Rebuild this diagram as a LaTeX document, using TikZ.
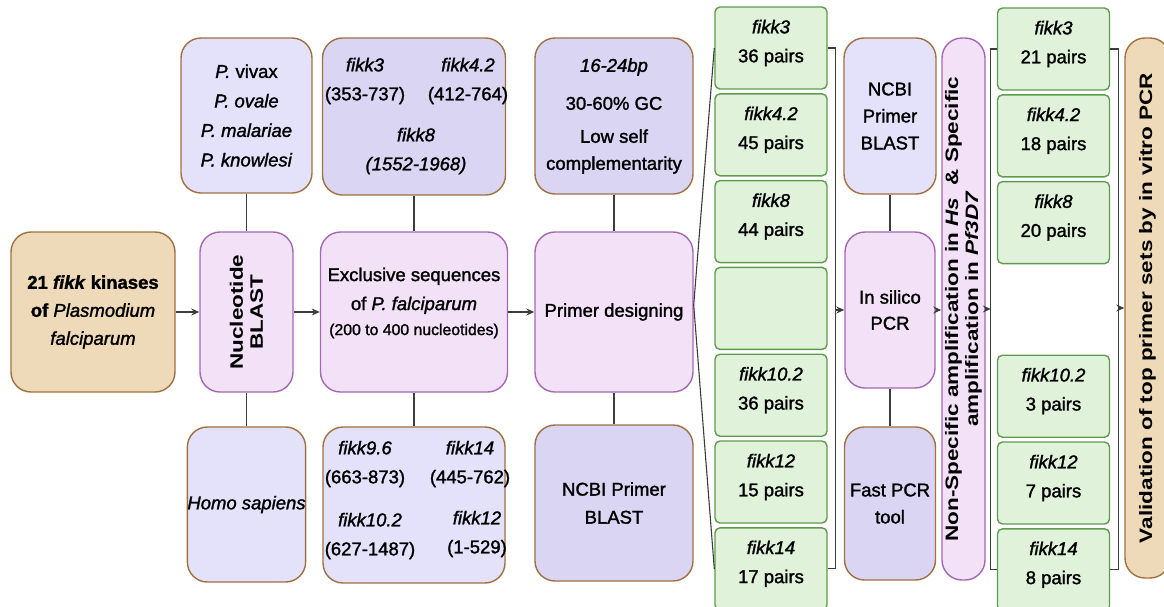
\documentclass[tikz,border=0pt]{standalone}
\usepackage{fontspec}
\setmainfont{Liberation Sans}[FakeBold=1.5]
\newfontfamily\widesf{Liberation Sans}[FakeStretch=1.25]
\usetikzlibrary{arrows.meta, positioning}

\definecolor{tanfill}{HTML}{EEDAB9}
\definecolor{tanline}{HTML}{A0703F}
\definecolor{pinkfill}{HTML}{F3E1F8}
\definecolor{pinkline}{HTML}{A567B3}
\definecolor{lavlight}{HTML}{E4E1FB}
\definecolor{lavdark}{HTML}{D9D5F3}
\definecolor{greenfill}{HTML}{E0F2DA}
\definecolor{greenline}{HTML}{5F9B4C}
\definecolor{linegray}{HTML}{3C3C3C}

\begin{document}
\begin{tikzpicture}[x=1pt, y=-1pt,
    % Node styles
    box/.style={
        rounded corners=20pt, line width=1.4pt, inner sep=0pt, align=center,
        font={\fontsize{18.5}{28}\selectfont},
      },
    tan box/.style={box, draw=tanline, fill=tanfill},
    pink box/.style={box, draw=pinkline, fill=pinkfill},
    lav box/.style={box, draw=tanline, fill=lavlight},
    dark lav box/.style={box, draw=tanline, fill=lavdark},
    pair box/.style={
        box, rounded corners=5pt, draw=greenline, fill=greenfill,
        minimum width=112pt, minimum height=82pt,
      },
    pair text/.style={inner sep=0pt, align=center, font={\fontsize{18.5}{29}\selectfont}},
    vert text/.style={rotate=90, font={\widesf\bfseries\fontsize{18}{20}\selectfont}},
    % Edge styles
    link/.style={draw=linegray, line width=1.4pt},
    flow/.style={link, line width=1.8pt, -{Stealth[length=8pt, width=7pt]}},
  ]
  \useasboundingbox (0,0) rectangle (1164,606);

  % --- main row ---
  \node[tan box, minimum width=164pt, minimum height=160pt] (kinases) at (93,312)
    {\textbf{21 \textit{fikk} kinases}\\ \textbf{of} \textit{Plasmodium}\\ \textit{falciparum}};
  \node[pink box, vert text, minimum width=160pt, minimum height=93pt] (nblast) at (246.5,312)
    {Nucleotide\\ BLAST};
  \node[pink box, minimum width=187pt, minimum height=160pt] (excl) at (414,312) {};
  \node[pair text] (excltxt) at (414,303)
    {Exclusive sequences\\ of \textit{P. falciparum}\\[-4pt]
     {\fontsize{15.8}{20}\selectfont (200 to 400 nucleotides)}};
  \node[pink box, minimum width=158pt, minimum height=160pt] (design) at (614,312) {Primer designing};

  % --- boxes above and below ---
  \node[lav box, minimum width=131pt, minimum height=155pt, font={\fontsize{18.5}{29.5}\selectfont}]
    (pspecies) at (246.5,115.5)
    {\textit{P.} vivax\\ \textit{P. ovale}\\ \textit{P. malariae}\\ \textit{P. knowlesi}};
  \node[lav box, minimum width=118pt, minimum height=155pt] (homo) at (246.5,504.5) {\textit{Homo sapiens}};

  \node[dark lav box, minimum width=183pt, minimum height=157pt] (topseq) at (414,116.5) {};
  \foreach \gene/\range/\px/\py [count=\k] in {fikk3/(353-737)/365/81, fikk4.2/(412-764)/468/81}
    \node[pair text] (ts\k) at (\px,\py) {\textit{\gene}\\ \range};
  \node[pair text] (ts3) at (416,151) {\textit{fikk8}\\ \textit{(1552-1968)}};

  \node[lav box, minimum width=182pt, minimum height=156pt] (botseq) at (414,505) {};
  \foreach \gene/\range/\px/\py [count=\k] in
      {fikk9.6/(663-873)/365/464, fikk14/(445-762)/470/464,
       fikk10.2/(627-1487)/370/536, fikk12/(1-529)/477/534}
    \node[pair text] (bs\k) at (\px,\py) {\textit{\gene}\\ \range};

  \node[dark lav box, minimum width=158pt, minimum height=156pt, font={\fontsize{18.5}{27}\selectfont}]
    (criteria) at (614,116)
    {\textit{16-24bp}\\[11pt] 30-60\% GC\\[6pt] Low self\\ complementarity};
  \node[dark lav box, minimum width=158pt, minimum height=156pt] (pblast1) at (614,503)
    {NCBI Primer\\ BLAST};

  % --- primer pairs, first column ---
  \foreach \gene/\num/\i in {fikk3/36/0, fikk4.2/45/1, fikk8/44/2, fikk10.2/36/4, fikk12/15/5, fikk14/17/6} {
      \node[pair box] (a\i) at (771,{48+\i*86.8}) {};
      \node[pair text] (ta\i) at ([yshift=5pt]a\i.center) {\textit{\gene}\\ \num\ pairs};
    }
  \node[pair box] (a3) at (771,{48+3*86.8}) {};

  % --- checking tools ---
  \node[lav box, minimum width=92pt, minimum height=156pt, font={\fontsize{18.5}{27}\selectfont}]
    (pblast2) at (890,116) {NCBI\\ Primer\\ BLAST};
  \node[pink box, minimum width=90pt, minimum height=156pt, font={\fontsize{18.5}{26}\selectfont}]
    (insilico) at (890,310) {In silico\\ PCR};
  \node[dark lav box, minimum width=91pt, minimum height=153pt, font={\fontsize{18.5}{27}\selectfont}]
    (fastpcr) at (890,503.5) {Fast PCR\\ tool};
  \node[pink box, vert text, minimum width=542pt, minimum height=43pt] (nonspec) at (963.5,309)
    {Non-Specific amplification in \textit{Hs}\ \ \&~Specific\\ amplification in \textit{Pf3D7}};

  % --- primer pairs, second column ---
  \foreach \gene/\num/\i in {fikk3/21/0, fikk4.2/18/1, fikk8/20/2, fikk10.2/3/4, fikk12/7/5, fikk14/8/6} {
      \node[pair box] (b\i) at (1053.5,{49+\i*86.8}) {};
      \node[pair text] (tb\i) at ([yshift=5pt]b\i.center) {\textit{\gene}\\ \num\ pairs};
    }

  \node[tan box, vert text, minimum width=540pt, minimum height=45pt] (valid) at (1147.5,308)
    {Validation of top primer sets by in vitro PCR};

  % --- connectors ---
  \draw[link] (pspecies) -- (nblast);
  \draw[link] (nblast) -- (homo);
  \draw[link] (topseq) -- (excl);
  \draw[link] (excl) -- (botseq);
  \draw[link] (criteria) -- (design);
  \draw[link] (design) -- (pblast1);
  \draw[link] (pblast2) -- (insilico);
  \draw[link] (insilico) -- (fastpcr);

  \draw[flow] (kinases) -- (nblast);
  \draw[flow] (nblast) -- (excl);
  \draw[flow] (excl) -- (design);

  % fan into the first column
  \draw[link, line width=1.1pt] (a0.west) -- ([yshift=7pt]design.east) -- (a6.west);

  % brackets
  \coordinate (br1) at ([xshift=8pt]a0.east);
  \draw[link, line width=1.1pt] (a0.east) -- (br1) |- (a6.east);
  \draw[flow] (br1 |- insilico.west) -- (insilico.west);
  \draw[flow] (insilico.east) -- (insilico.east -| nonspec.north);

  \coordinate (br2) at ([xshift=-6pt]b0.west);
  \draw[link, line width=1.1pt] (b0.west) -- (br2) |- (b6.west);
  \draw[flow] (nonspec.south) -- (nonspec.south -| br2);

  \coordinate (br3) at ([xshift=8pt]b0.east);
  \draw[link, line width=1.1pt] (b0.east) -- (br3) |- (b6.east);
  \draw[flow] (br3 |- valid.north) -- (valid.north);
\end{tikzpicture}
\end{document}
